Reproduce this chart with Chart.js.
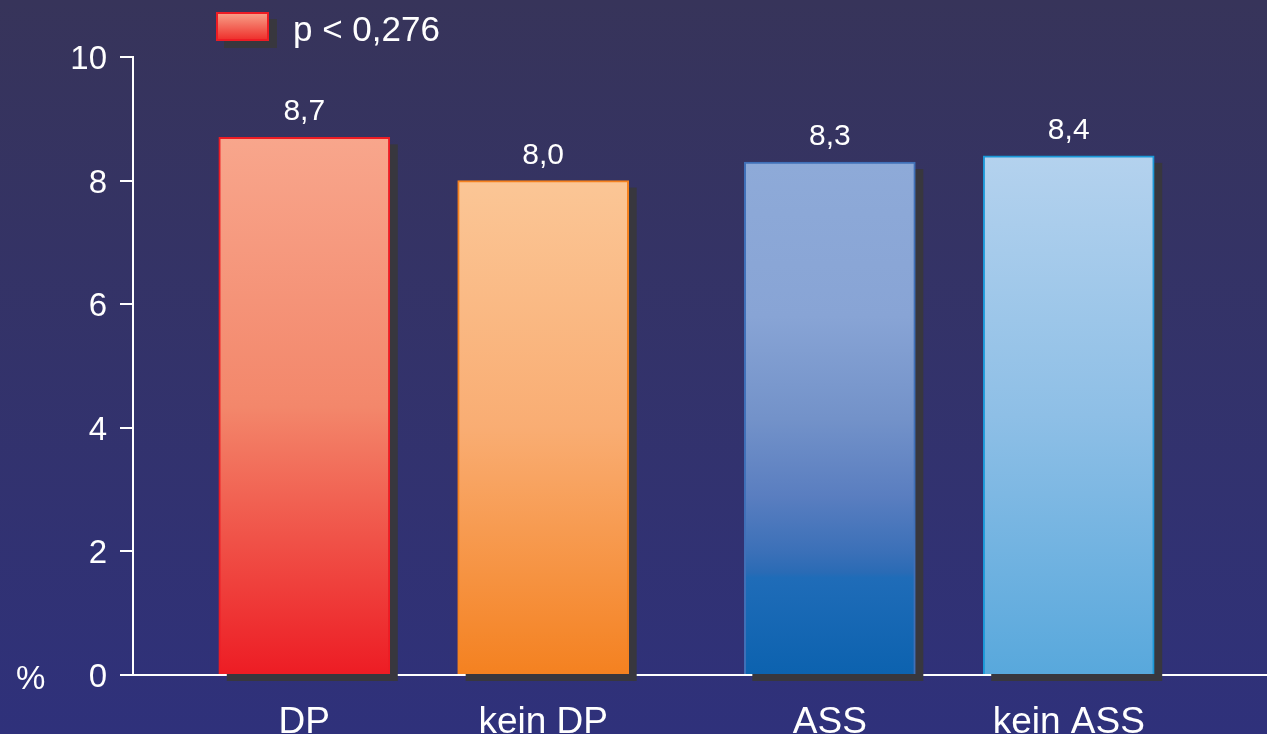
<!DOCTYPE html>
<html>
<head>
<meta charset="utf-8">
<script src="https://cdn.jsdelivr.net/npm/chart.js@4/dist/chart.umd.min.js"></script>
<style>
  html, body { margin: 0; padding: 0; background: #30317a; }
  #wrap { width: 1267px; height: 734px; position: relative; }
</style>
</head>
<body>
<div id="wrap"><canvas id="chart"></canvas></div>
<script>
const categories = ['DP', 'kein DP', 'ASS', 'kein ASS'];
const values = [8.7, 8.0, 8.3, 8.4];
const valueLabels = ['8,7', '8,0', '8,3', '8,4'];
const legendLabel = 'p < 0,276';
const unitLabel = '%';

// styles
const FONT = '"Liberation Sans", Arial, sans-serif';
const gradStops = [
    [[0, '#f8a68c'], [0.5, '#f3876b'], [1, '#ed1c24']],
    [[0, '#fbc696'], [0.5, '#f9ad73'], [1, '#f48120']],
    [[0, '#8eaad8'], [0.3, '#88a4d5'], [0.5, '#7392c9'], [0.65, '#5a7ec0'],
     [0.76, '#3b70b8'], [0.8, '#2a6bb5'], [0.81, '#1f6cb8'], [1, '#0c62af']],
    [[0, '#b4d2ee'], [0.5, '#8ebfe6'], [1, '#58a8dc']]
];
const borderColors = ['#ed1c24', '#f58220', '#4070b8', '#1b98d8'];
const groupGap = 0.2;
const xPos = categories.map((c, i) => i + 1 + (i >= 2 ? groupGap : 0));

function barGradient(context) {
    const chart = context.chart;
    const y = chart.scales.y;
    if (!chart.chartArea || !y) return gradStops[context.dataIndex][0][1];
    const top = y.getPixelForValue(values[context.dataIndex]);
    const bottom = y.getPixelForValue(0);
    const g = chart.ctx.createLinearGradient(0, top, 0, bottom);
    gradStops[context.dataIndex].forEach(s => g.addColorStop(s[0], s[1]));
    return g;
}

const decor = {
    id: 'decor',
    beforeDraw(chart) {
        const ctx = chart.ctx;
        const g = ctx.createLinearGradient(0, 0, 0, chart.height);
        g.addColorStop(0, '#37345a');
        g.addColorStop(1, '#2f317b');
        ctx.save();
        ctx.fillStyle = g;
        ctx.fillRect(0, 0, chart.width, chart.height);
        ctx.restore();
    },
    beforeDatasetsDraw(chart) {
        const ctx = chart.ctx;
        ctx.save();
        ctx.fillStyle = '#38373e';
        chart.getDatasetMeta(0).data.forEach(bar => {
            ctx.fillRect(bar.x - bar.width / 2 + 8, bar.y + 7, bar.width, bar.base - bar.y);
        });
        ctx.restore();
    },
    afterDatasetsDraw(chart) {
        const ctx = chart.ctx;
        ctx.save();
        ctx.fillStyle = '#ffffff';
        ctx.font = '30px ' + FONT;
        ctx.textAlign = 'center';
        ctx.textBaseline = 'alphabetic';
        chart.getDatasetMeta(0).data.forEach((bar, i) => {
            ctx.fillText(valueLabels[i], bar.x, bar.y - 17);
        });
        ctx.restore();
    },
    afterDraw(chart) {
        const ctx = chart.ctx;
        ctx.save();
        // legend
        ctx.fillStyle = '#38373e';
        ctx.fillRect(224, 19, 53, 29);
        const g = ctx.createLinearGradient(0, 12, 0, 41);
        g.addColorStop(0, '#f8a68c');
        g.addColorStop(1, '#ee2a27');
        ctx.fillStyle = g;
        ctx.fillRect(217, 13, 51, 27);
        ctx.strokeStyle = '#ed1c24';
        ctx.lineWidth = 2;
        ctx.strokeRect(217, 13, 51, 27);
        ctx.fillStyle = '#ffffff';
        ctx.font = '35px ' + FONT;
        ctx.textAlign = 'left';
        ctx.textBaseline = 'alphabetic';
        ctx.fillText(legendLabel, 293, 41);
        ctx.font = '33px ' + FONT;
        ctx.fillText(unitLabel, 16, 689);
        ctx.restore();
    }
};

new Chart(document.getElementById('chart'), {
    type: 'bar',
    data: {
        datasets: [{
            label: legendLabel,
            data: values.map((v, i) => ({ x: xPos[i], y: v })),
            backgroundColor: barGradient,
            borderColor: borderColors,
            borderWidth: 2,
            barThickness: 171
        }]
    },
    options: {
        responsive: true,
        maintainAspectRatio: false,
        animation: false,
        layout: { padding: { top: 57, left: 0, right: 0, bottom: 0 } },
        plugins: {
            legend: { display: false },
            tooltip: { enabled: false }
        },
        scales: {
            x: {
                type: 'linear',
                min: 0.283,
                max: 5.03,
                offset: false,
                z: 1,
                afterBuildTicks(scale) {
                    scale.ticks = xPos.map(v => ({ value: v }));
                },
                afterFit(scale) { scale.height = 734 - 675; },
                ticks: {
                    autoSkip: false,
                    maxRotation: 0,
                    padding: 18,
                    color: '#ffffff',
                    font: { family: FONT, size: 37 },
                    callback: (v, i) => categories[i]
                },
                grid: { display: false, offset: false },
                border: { display: true, color: '#ffffff', width: 2 }
            },
            y: {
                min: 0,
                max: 10,
                afterFit(scale) { scale.width = 133; },
                ticks: {
                    stepSize: 2,
                    padding: 13,
                    labelOffset: 3,
                    color: '#ffffff',
                    font: { family: FONT, size: 33 }
                },
                grid: {
                    drawOnChartArea: false,
                    drawTicks: true,
                    tickLength: 13,
                    color: '#ffffff',
                    lineWidth: 2
                },
                border: { display: true, color: '#ffffff', width: 2 }
            }
        }
    },
    plugins: [decor]
});
</script>
</body>
</html>
